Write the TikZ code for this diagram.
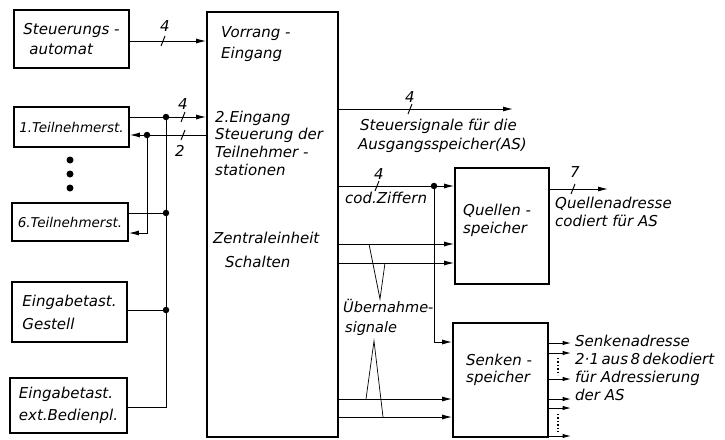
\documentclass[tikz,border=0pt]{standalone}
\usepackage{fontspec}
\setmainfont{DejaVu Sans}
\usetikzlibrary{arrows.meta}
\begin{document}
\begin{tikzpicture}[x=1pt,y=-1pt,
  blk/.style={draw, line width=1.7pt, inner sep=0pt, align=left, font=\fontsize{15}{21}\selectfont\itshape},
  txt/.style={inner sep=0pt, align=left, font=\fontsize{15}{18}\selectfont\itshape},
  num/.style={inner sep=0pt, anchor=base, font=\fontsize{15}{18}\selectfont\itshape},
  con/.style={line width=1pt},
  arr/.style={con, -{Latex[length=10pt,width=5pt]}},
  sarr/.style={con, -{Latex[length=8.5pt,width=4.6pt]}},
  dotj/.style={circle, fill, inner sep=0pt, minimum size=6.5pt},
  edot/.style={circle, fill, inner sep=0pt, minimum size=7pt},
  slash/.style={line width=1pt},
  thin/.style={line width=0.7pt}
]
\useasboundingbox (0,0) rectangle (725,439);

% ---- boxes ----
\node[blk, minimum width=115pt, minimum height=58pt] (SA) at (71.5,39) {Steuerungs -\\[-1pt]\hspace*{6pt}automat};
\node[blk, minimum width=115pt, minimum height=40pt, font=\fontsize{13.5}{18}\selectfont\itshape] (T1) at (71.5,127) {1.Teilnehmerst.};
\node[blk, minimum width=116pt, minimum height=38pt, font=\fontsize{13.5}{18}\selectfont\itshape] (T6) at (70,222) {6.Teilnehmerst.};
\node[blk, minimum width=115pt, minimum height=60pt, font=\fontsize{15}{23}\selectfont\itshape] (EG) at (69.5,312) {Eingabetast.\\Gestell};
\node[blk, minimum width=117pt, minimum height=55pt, font=\fontsize{15}{22}\selectfont\itshape] (EB) at (68.5,405.5) {Eingabetast.\\ext.Bedienpl.};
\node[blk, minimum width=131pt, minimum height=425pt] (ZE) at (272.5,224.5) {};
\node[blk, minimum width=94pt, minimum height=116pt] (Q) at (502,226) {};
\node[blk, minimum width=95pt, minimum height=114pt] (S) at (500.5,380) {};

% ---- dots (vertical ellipsis) ----
\node[edot] (e1) at (70,160) {};
\node[edot] (e2) at (70,174) {};
\node[edot] (e3) at (70,188) {};

% ---- texts in the boxes (base = baseline of last line) ----
\node[txt, anchor=base west, font=\fontsize{15}{21}\selectfont\itshape] (tv) at (221,58) {Vorrang -\\Eingang};
\node[txt, anchor=base west, font=\fontsize{15}{17.8}\selectfont\itshape] (te) at (215,175.5) {2.Eingang\\Steuerung der\\Teilnehmer -\\stationen};
\node[txt, anchor=base west, font=\fontsize{15}{24}\selectfont\itshape] (tz) at (213,267) {Zentraleinheit\\\hspace*{12pt}Schalten};
\node[txt, anchor=base west] (tq) at (463,233) {Quellen -\\speicher};
\node[txt, anchor=base west, font=\fontsize{15}{17}\selectfont\itshape] (ts) at (466,382) {Senken -\\speicher};

% ---- left side connectors ----
\coordinate (j1) at (166,117);
\coordinate (j2) at (147,135);
\coordinate (j3) at (166,213);
\coordinate (j4) at (166,310);
\coordinate (j5) at (166,407);
\coordinate (j6) at (147,233);

\draw[arr] (SA.east |- 0,41) -- (ZE.west |- 0,41);
\draw[arr] (T1.east |- 0,117) -- (ZE.west |- 0,117);
\draw[arr] (ZE.west |- 0,135) -- (T1.east |- 0,135);
\draw[con] (T6.east |- j3) -- (j3);
\draw[arr] (j2) -- (j6) -- (T6.east |- j6);
\draw[con] (EG.east |- j4) -- (j4);
\draw[con] (EB.east |- j5) -- (j5) -- (j1);
\foreach \j in {j1,j2,j3,j4} \node[dotj] at (\j) {};

% slashes and bit counts, left
\draw[slash] (161,46) -- (165,36);
\node[num] (n1) at (165,31) {4};
\draw[slash] (181,122) -- (185,112);
\node[num] (n2) at (183,109) {4};
\draw[slash] (181,140) -- (185,130);
\node[num] (n3) at (180,156) {2};

% ---- right side connectors ----
\coordinate (ss) at (513,109);
\coordinate (jq) at (434,186);
\coordinate (jk) at (434,342);
\coordinate (qo) at (608,189);

\draw[arr] (ZE.east |- ss) -- (ss);
\draw[slash] (408,114) -- (412,104);
\node[num] (n4) at (410,102) {4};
\node[txt, anchor=base west, font=\fontsize{15}{19}\selectfont\itshape] (tss) at (360,149) {Steuersignale f\"ur die\\\hspace*{-2pt}Ausgangsspeicher(AS)};

\draw[arr] (ZE.east |- jq) -- (Q.west |- jq);
\node[dotj] at (jq) {};
\draw[slash] (375,191) -- (379,181);
\node[num] (n5) at (379,179) {4};
\node[txt, anchor=base west] (tcz) at (345,203) {cod.Ziffern};
\draw[arr] (jq) -- (jk) -- (S.west |- jk);

\draw[arr] (ZE.east |- 0,244) -- (Q.west |- 0,244);
\draw[arr] (ZE.east |- 0,263) -- (Q.west |- 0,263);
\draw[arr] (ZE.east |- 0,399) -- (S.west |- 0,399);
\draw[arr] (ZE.east |- 0,417) -- (S.west |- 0,417);

% Uebernahme pointers
\draw[thin] (369,244) -- (380,299) -- (385,263);
\draw[thin] (366,399) -- (374,341) -- (383,417);
\node[txt, anchor=base west, font=\fontsize{14.5}{20}\selectfont\itshape] (tu) at (343,332) {\"Ubernahme-\\\hspace*{2pt}signale};

% Quellen output
\draw[arr] (Q.east |- qo) -- (qo);
\draw[slash] (571,194) -- (575,184);
\node[num] (n6) at (575,177) {7};
\node[txt, anchor=base west] (tqa) at (555,226) {Quellenadresse\\codiert f\"ur AS};

% Senken outputs
\foreach \yy/\nm in {343/s1,353/s2,379/s3,399/s4,408/s5,436/s6} {
  \coordinate (\nm) at (571,\yy);
  \draw[sarr] (S.east |- \nm) -- (\nm);
}
\draw[dotted, line width=1.4pt] (558,358) -- (558,375);
\draw[dotted, line width=1.4pt] (558,414) -- (558,432);
\node[txt, anchor=base west, font=\fontsize{15}{17.7}\selectfont\itshape] (tsa) at (575,400) {Senkenadresse\\2·1\,aus\,8\,dekodiert\\f\"ur Adressierung\\der AS};
\end{tikzpicture}
\end{document}
